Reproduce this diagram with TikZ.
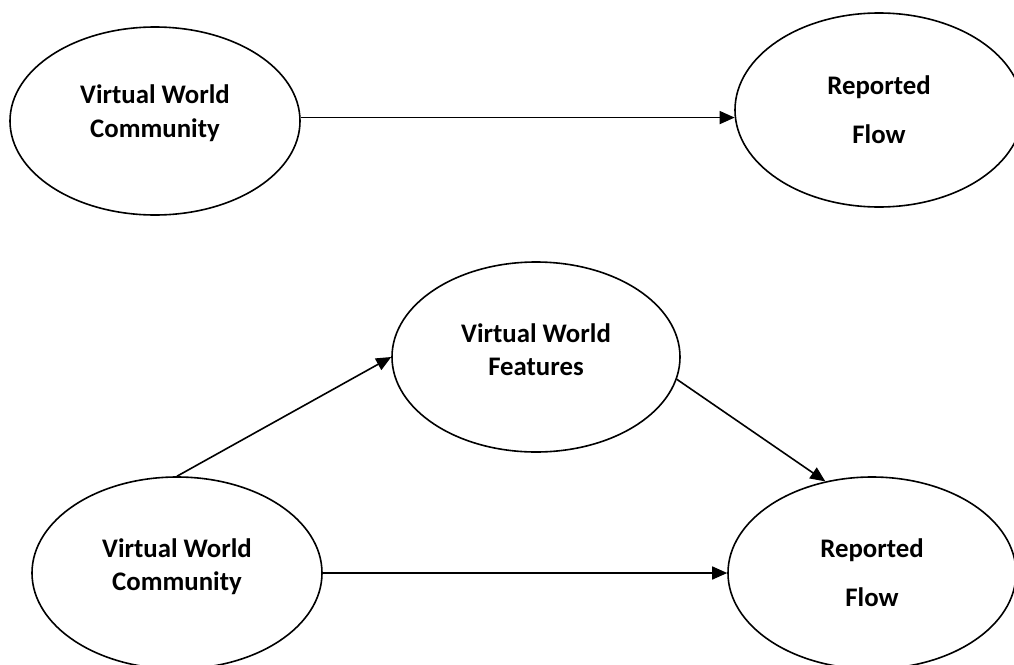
\documentclass[tikz,border=0pt]{standalone}
\usepackage{fontspec}
\setmainfont{Carlito}
\usetikzlibrary{shapes.geometric,arrows.meta}
\begin{document}
\begin{tikzpicture}[x=1pt,y=-1pt,
  oval/.style={draw=black,line width=1.6pt,ellipse,inner sep=0pt,fill=white},
  lbl/.style={font=\fontsize{26.8}{32}\selectfont\bfseries,anchor=base,inner sep=0pt},
  arr/.style={draw=black,line width=1.6pt,-{Triangle[length=15pt,width=13pt]}}]
\useasboundingbox[fill=white] (0,0) rectangle (1014,664);
% ellipses
\node[oval,minimum width=290pt,minimum height=188pt] (e1) at (155,121) {};
\node[oval,minimum width=288pt,minimum height=194pt] (e2) at (879,110) {};
\node[oval,minimum width=288pt,minimum height=190pt] (e3) at (536,357) {};
\node[oval,minimum width=290pt,minimum height=192pt] (e4) at (177,573) {};
\node[oval,minimum width=288pt,minimum height=192pt] (e5) at (872,573) {};
% labels
\node[lbl] (t1a) at (155,103) {Virtual World};
\node[lbl] (t1b) at (155,137) {Community};
\node[lbl] (t2a) at (879,94) {Reported};
\node[lbl] (t2b) at (879,143) {Flow};
\node[lbl] (t3a) at (536,342) {Virtual World};
\node[lbl] (t3b) at (536,375) {Features};
\node[lbl] (t4a) at (177,557) {Virtual World};
\node[lbl] (t4b) at (177,590) {Community};
\node[lbl] (t5a) at (872,557) {Reported};
\node[lbl] (t5b) at (872,606) {Flow};
% connectors
\draw[arr] (e1.east |- e2.183) -- (e2.183);
\draw[arr] (e4.north) -- (e3.west);
\draw[arr] (e3.-9) -- (e5.117);
\draw[arr] (e4.east) -- (e4.east -| e5.west);
\end{tikzpicture}
\end{document}
